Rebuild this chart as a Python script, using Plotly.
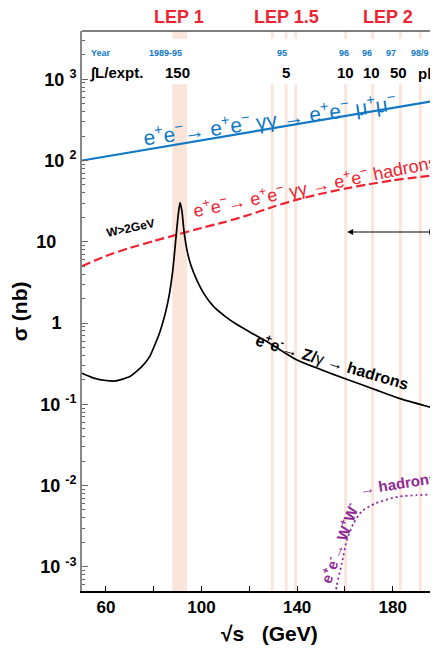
import plotly.graph_objects as go

# ---------------- data ----------------
# e+e- -> e+e- gamma gamma -> e+e- mu+mu-
mumu_x = [50, 80, 100, 120, 140, 160, 180, 200]
mumu_y = [100, 141, 177, 223, 281, 353, 445, 559]

# e+e- -> e+e- gamma gamma -> e+e- hadrons (W>2GeV)
gghad_x = [50, 60, 70, 80, 90, 100, 110, 120, 130, 140, 150, 160, 170, 180, 190, 200]
gghad_y = [5.0, 6.7, 8.4, 10.2, 12.3, 14.8, 17.6, 21.5, 27, 33, 39, 45, 51, 57, 62, 67]

# e+e- -> Z/gamma -> hadrons
zhad_x = [50, 55, 60, 64, 70, 75, 78.3, 82.4, 85.2, 86.6, 88.0, 89.4, 90.3, 91.0,
          91.8, 92.5, 93.3, 94.4, 95.7, 98, 101, 105, 110, 115, 120, 127, 140, 154, 168, 182, 200]
zhad_y = [0.241, 0.21, 0.196, 0.194, 0.219, 0.29, 0.386, 0.75, 1.45, 2.3, 4.5, 12.0, 22, 30.3,
          24, 15, 10, 6.8, 5.0, 3.4, 2.3, 1.6, 1.2, 0.95, 0.78, 0.6, 0.35, 0.24, 0.17, 0.12, 0.085]

# e+e- -> W+W- -> hadrons
ww_x = [155.5, 156.5, 158.7, 160.8, 163.6, 167, 172.6, 182.3, 190, 200]
ww_y = [3e-4, 5.7e-4, 1.1e-3, 2.14e-3, 3.43e-3, 4.8e-3, 6.0e-3, 7.3e-3, 7.6e-3, 7.85e-3]

# LEP running points (GeV)
lep1_band = [87.8, 94.0]
lep2_points = [129.6, 135.4, 139.4, 160.3, 171.6, 183.2, 191.5]

# top table
year_labels = ["1989-95", "95", "96", "96", "97", "98/9"]
year_x = [84.9, 133.6, 159.8, 169.4, 179.4, 191.4]
lumi_labels = ["150", "5", "10", "10", "50"]
lumi_x = [89.9, 135.3, 160.2, 171.0, 182.3]
phase_labels = ["LEP 1", "LEP 1.5", "LEP 2"]
phase_x = [90.5, 135.7, 178.1]

ytick_vals = [1e-3, 1e-2, 1e-1, 1, 10, 100, 1000]
ytick_text = ["10 <sup>-3</sup>", "10 <sup>-2</sup>", "10 <sup>-1</sup>",
              "1&nbsp;&nbsp;&nbsp;", "10&nbsp;&nbsp;&nbsp;&nbsp;", "10 <sup>2</sup>", "10 <sup>3</sup>"]

# ---------------- styles ----------------
BLUE = "#1178c4"
RED = "#ee2430"
PURPLE = "#8e2a94"
BAND = "#fbe4da"
FONT = "Liberation Sans, Arial, sans-serif"

fig = go.Figure()

fig.add_trace(go.Scatter(x=mumu_x, y=mumu_y, mode="lines",
                         line=dict(color=BLUE, width=2.2), showlegend=False, hoverinfo="skip"))
fig.add_trace(go.Scatter(x=gghad_x, y=gghad_y, mode="lines",
                         line=dict(color=RED, width=2.2, dash="9px,4px", shape="spline", smoothing=0.6),
                         showlegend=False, hoverinfo="skip"))
fig.add_trace(go.Scatter(x=zhad_x, y=zhad_y, mode="lines",
                         line=dict(color="black", width=1.7, shape="spline", smoothing=0.5),
                         showlegend=False, hoverinfo="skip"))
fig.add_trace(go.Scatter(x=ww_x, y=ww_y, mode="lines",
                         line=dict(color=PURPLE, width=1.8, dash="2px,3px", shape="spline", smoothing=0.6),
                         showlegend=False, hoverinfo="skip"))

shapes = []
# bands
shapes.append(dict(type="rect", xref="x", yref="paper", x0=lep1_band[0], x1=lep1_band[1],
                   y0=0, y1=1, fillcolor=BAND, line_width=0, layer="below"))
for e in lep2_points:
    shapes.append(dict(type="rect", xref="x", yref="paper", x0=e - 0.6, x1=e + 0.6,
                       y0=0, y1=1, fillcolor=BAND, line_width=0, layer="below"))
# white strip behind the table text
shapes.append(dict(type="rect", xref="paper", yref="paper", x0=0, x1=1, y0=0.905, y1=0.986,
                   fillcolor="white", line_width=0, layer="below"))
# top frame line
shapes.append(dict(type="line", xref="paper", yref="paper", x0=0, x1=1, y0=1, y1=1,
                   line=dict(color="#555", width=1.5)))

C = dict(xanchor="center", yanchor="middle", showarrow=False)
ann = []
for t, x in zip(phase_labels, phase_x):
    ann.append(dict(x=x, y=1.025, xref="x", yref="paper", text=t, **C,
                    font=dict(family=FONT, size=18, color=RED, weight="bold")))
ann.append(dict(x=52.9, y=0.9607, xref="x", yref="paper", text="Year", xanchor="left", yanchor="middle",
                showarrow=False, font=dict(family=FONT, size=9, color=BLUE, weight="bold")))
for t, x in zip(year_labels, year_x):
    ann.append(dict(x=x, y=0.9607, xref="x", yref="paper", text=t, **C,
                    font=dict(family=FONT, size=9, color=BLUE, weight="bold")))
ann.append(dict(x=52.3, y=0.925, xref="x", yref="paper", text="∫L/expt.", xanchor="left", yanchor="middle",
                showarrow=False, font=dict(family=FONT, size=15, color="black", weight="bold")))
for t, x in zip(lumi_labels, lumi_x):
    ann.append(dict(x=x, y=0.925, xref="x", yref="paper", text=t, **C,
                    font=dict(family=FONT, size=15, color="black", weight="bold")))
ann.append(dict(x=189.8, y=0.925, xref="x", yref="paper", text="pb<sup>-1</sup>", xanchor="left",
                yanchor="middle", showarrow=False,
                font=dict(family=FONT, size=15, color="black", weight="bold")))

# curve labels
ann.append(dict(x=128.6, y=2.51, xref="x", yref="y", **C, textangle=-8,
                text="e<sup>+</sup>e<sup>−</sup>→ e<sup>+</sup>e<sup>−</sup> γγ → e<sup>+</sup>e<sup>−</sup> μ<sup>+</sup>μ<sup>−</sup>",
                font=dict(family=FONT, size=21, color=BLUE)))
ann.append(dict(x=147.5, y=1.69, xref="x", yref="y", **C, textangle=-11.5,
                text="e<sup>+</sup>e<sup>−</sup>→ e<sup>+</sup>e<sup>−</sup> γγ → e<sup>+</sup>e<sup>−</sup> hadrons",
                font=dict(family=FONT, size=18, color=RED)))
ann.append(dict(x=70.4, y=1.17, xref="x", yref="y", **C, textangle=-12,
                text="W>2GeV", font=dict(family=FONT, size=12, color="black", weight="bold")))
ann.append(dict(x=154.6, y=-0.47, xref="x", yref="y", **C, textangle=16.5,
                text="<b>e<sup>+</sup>e<sup>-</sup></b>→ <b>Z/</b>γ → <b>hadrons</b>",
                font=dict(family=FONT, size=16, color="black")))
ann.append(dict(x=157.3, y=-2.695, xref="x", yref="y", **C, textangle=-70,
                text="<b>e<sup>+</sup>e<sup>-</sup></b>→ <b>W<sup>+</sup>W<sup>-</sup></b>",
                font=dict(family=FONT, size=15, color=PURPLE)))
ann.append(dict(x=182.3, y=-1.969, xref="x", yref="y", **C, textangle=-9,
                text="→ <b>hadrons</b>", font=dict(family=FONT, size=15, color=PURPLE)))
# double arrow
ann.append(dict(x=197.8, y=1.12, ax=160.3, ay=1.12, xref="x", yref="y", axref="x", ayref="y",
                text="", showarrow=True, arrowhead=2, arrowside="end+start", arrowsize=1,
                arrowwidth=1.2, arrowcolor="black"))
# axis titles
ann.append(dict(x=0.531, y=-0.075, xref="paper", yref="paper", text="√s   (GeV)", **C,
                font=dict(family=FONT, size=21, color="black", weight="bold")))
ann.append(dict(x=-0.177, y=0.5, xref="paper", yref="paper", text="σ (nb)", **C,
                textangle=-90, font=dict(family=FONT, size=21, color="black", weight="bold")))

minor_vals = [m * 10 ** e for e in range(-4, 4) for m in range(2, 10)]

fig.update_layout(
    width=430, height=637,
    margin=dict(l=74, r=0, t=23, b=54),
    paper_bgcolor="white", plot_bgcolor="white",
    shapes=shapes, annotations=ann,
    xaxis=dict(range=[50, 198.1], showgrid=False, zeroline=False,
               tick0=60, dtick=40, ticks="inside", ticklen=5, tickwidth=1.2, tickcolor="black",
               showline=True, linecolor="black", linewidth=2,
               minor=dict(dtick=20, ticks="inside", ticklen=5, tickcolor="black", showgrid=False),
               tickfont=dict(family=FONT, size=17, color="black", weight="bold")),
    yaxis=dict(type="log", range=[-3.298, 3.594], showgrid=False, zeroline=False,
               tickvals=ytick_vals, ticktext=ytick_text,
               ticks="inside", ticklen=6, tickwidth=1.2, tickcolor="#666",
               showline=True, linecolor="#888", linewidth=2, mirror="ticks",
               minor=dict(tickvals=minor_vals, ticks="inside", ticklen=3, tickcolor="#666", showgrid=False),
               tickfont=dict(family=FONT, size=18, color="black", weight="bold")),
)

fig.write_html("out.html")
